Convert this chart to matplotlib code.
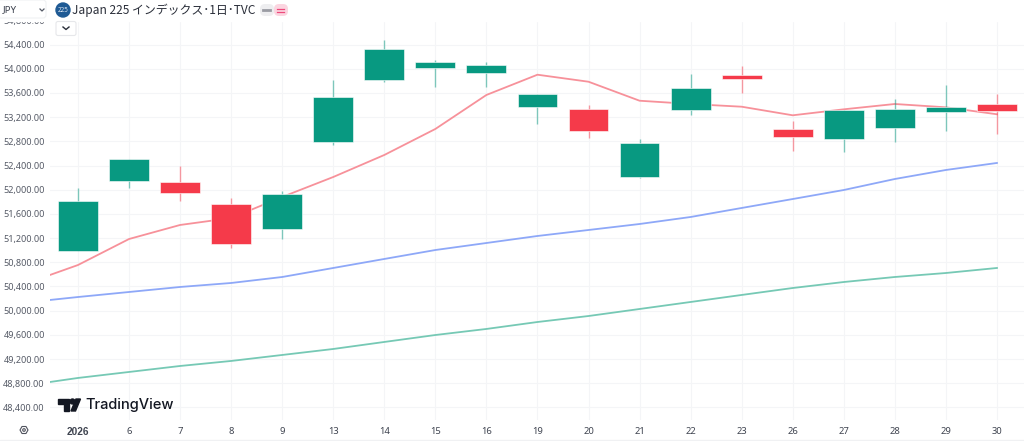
import matplotlib
matplotlib.use('Agg')
import matplotlib.pyplot as plt
from matplotlib.patches import Circle, FancyBboxPatch, Polygon, Rectangle

# first tick is the year label
x_labels = ['2026', '6', '7', '8', '9', '13', '14', '15', '16', '19', '20', '21', '22', '23', '26', '27', '28', '29', '30']
y_ticks = [48400, 48800, 49200, 49600, 50000, 50400, 50800, 51200, 51600, 52000, 52400, 52800, 53200, 53600, 54000, 54400, 54800]

opens = [51813, 52508, 51946, 51103, 51929, 53533, 54334, 54106, 54062, 53577, 52975, 52767, 53676, 53825, 52866, 53323, 53339, 53362, 53306]
closes = [50987, 52144, 52127, 51764, 51351, 52789, 53814, 54017, 53924, 53372, 53329, 52215, 53313, 53891, 53009, 52833, 53015, 53280, 53422]
highs = [52028, 52508, 52392, 51863, 51979, 53814, 54475, 54144, 54111, 53582, 53400, 52838, 53913, 54045, 53136, 53323, 53495, 53731, 53582]
lows = [50987, 52028, 51813, 51037, 51185, 52739, 53781, 53698, 53698, 53086, 52855, 52194, 53235, 53599, 52645, 52628, 52784, 52975, 52916]

# moving averages, the first value sits just off the left edge
ma_x = [-0.55] + list(range(19))
ma_short = [50590, 50755, 51185, 51417, 51532, 51880, 52210, 52574, 53004, 53566, 53901, 53785, 53471, 53417, 53372, 53230, 53329, 53417, 53362, 53247]
ma_mid = [50177, 50226, 50309, 50392, 50458, 50557, 50706, 50855, 51003, 51119, 51235, 51334, 51433, 51549, 51698, 51846, 51995, 52177, 52326, 52442]
ma_long = [48821, 48888, 48987, 49086, 49169, 49268, 49367, 49483, 49598, 49698, 49813, 49912, 50028, 50144, 50260, 50375, 50474, 50557, 50623, 50706]

GREEN = '#089981'
RED = '#f53a4a'
W, H = 1024, 441

plt.rcParams['font.family'] = ['Noto Sans', 'DejaVu Sans']
fig = plt.figure(figsize=(W / 100, H / 100), dpi=100, facecolor='white')
ax = fig.add_axes([50 / W, 21 / H, 974 / W, 420 / H])
ax.set_xlim(-0.548, 18.53)
ax.set_ylim(48193, 55136)

for s in ax.spines.values():
    s.set_visible(False)
ax.grid(True, color='#f4f5f7', linewidth=0.8)
ax.set_axisbelow(True)

ax.plot(ma_x, ma_long, color='#76c9b5', linewidth=1.3, zorder=2)
ax.plot(ma_x, ma_mid, color='#8ea8f8', linewidth=1.3, zorder=2)
ax.plot(ma_x, ma_short, color='#f7919a', linewidth=1.3, zorder=2)

for i in range(len(opens)):
    col = RED if closes[i] > opens[i] else GREEN
    ax.vlines(i, lows[i], highs[i], color=col, alpha=0.5, linewidth=1, zorder=3)
    ax.bar(i, abs(closes[i] - opens[i]), bottom=min(opens[i], closes[i]), width=0.78,
           color=col, edgecolor='white', linewidth=0.4, zorder=4)

ax.set_xticks(range(len(x_labels)))
ax.set_xticklabels(x_labels, fontsize=6.8, color='#3f4450')
ax.get_xticklabels()[0].set(family='Liberation Sans', fontweight='bold', fontsize=7.2)
ax.set_yticks(y_ticks)
ax.set_yticklabels([f'{v:,.2f}' for v in y_ticks], fontsize=6.5, color='#555a66')
ax.tick_params(axis='x', length=0, pad=5)
ax.tick_params(axis='y', length=0, pad=3.8)

# pixel overlay for the header and logo
ov = fig.add_axes([0, 0, 1, 1], facecolor='none')
ov.set_xlim(0, W)
ov.set_ylim(H, 0)
ov.axis('off')
ov.add_patch(Rectangle((0, 0), W, 20.5, color='white', zorder=1))
ov.add_patch(Rectangle((0, 439.5), W, 1.5, color='#f0f1f3', zorder=1))

# currency button
ov.add_patch(FancyBboxPatch((-2, 0), 48, 18, boxstyle='round,pad=0,rounding_size=3', fc='white', ec='#f0f1f3', lw=0.8, zorder=2))
ov.text(3, 10, 'JPY', fontsize=7, color='#3f4450', va='center', zorder=3)
ov.plot([40, 42, 44], [9, 11, 9], color='#555a66', lw=0.9, zorder=3)

# symbol title
ov.add_patch(Circle((63, 10), 7, color='#1f5a94', zorder=2))
ov.text(63, 10, '225', fontsize=4.5, color='#dce6f2', ha='center', va='center', zorder=3)
ov.text(72, 10, 'Japan 225 インデックス･1日･TVC', fontsize=8.6, color='#2a2e39', va='center',
        family=['Noto Sans CJK JP', 'DejaVu Sans'], zorder=3)

# status pills
ov.add_patch(FancyBboxPatch((260, 4), 14, 12, boxstyle='round,pad=0,rounding_size=5', fc='#eeeef0', ec='none', zorder=2))
ov.add_patch(FancyBboxPatch((274, 4), 14, 12, boxstyle='round,pad=0,rounding_size=5', fc='#fbd5e0', ec='none', zorder=2))
ov.plot([263, 270], [10, 10], color='#9a9ca3', lw=2, zorder=3)
ov.plot([277, 284], [8.5, 8.5], color='#ee4a7c', lw=0.9, zorder=3)
ov.plot([277, 284], [11.5, 11.5], color='#ee4a7c', lw=0.9, zorder=3)

# collapse button
ov.add_patch(FancyBboxPatch((56, 21.5), 20, 14, boxstyle='round,pad=0,rounding_size=2', fc='white', ec='#e6e7ea', lw=0.8, zorder=2))
ov.plot([63, 66, 69], [27, 29.5, 27], color='#2a2e39', lw=1, zorder=3)

# logo mark and wordmark
ov.add_patch(Polygon([(58, 399), (69, 399), (69, 411), (64, 411), (64, 404), (58, 404)], color='#131722', zorder=3))
ov.add_patch(Circle((72.5, 401.5), 2.5, color='#131722', zorder=3))
ov.add_patch(Polygon([(71, 411), (76, 399), (80.5, 399), (75.5, 411)], color='#131722', zorder=3))
ov.text(85, 405, 'TradingView', fontsize=10.5, fontweight='medium', color='#131722', va='center', family='Inter', zorder=3)

# settings icon in the corner
ov.add_patch(Polygon([(20, 430), (22, 426.5), (26, 426.5), (28, 430), (26, 433.5), (22, 433.5)], fc='white', ec='#50535e', lw=0.8, zorder=3))
ov.add_patch(Circle((24, 430), 1.3, fc='white', ec='#50535e', lw=0.8, zorder=4))

fig.savefig('out.png', dpi=100)
